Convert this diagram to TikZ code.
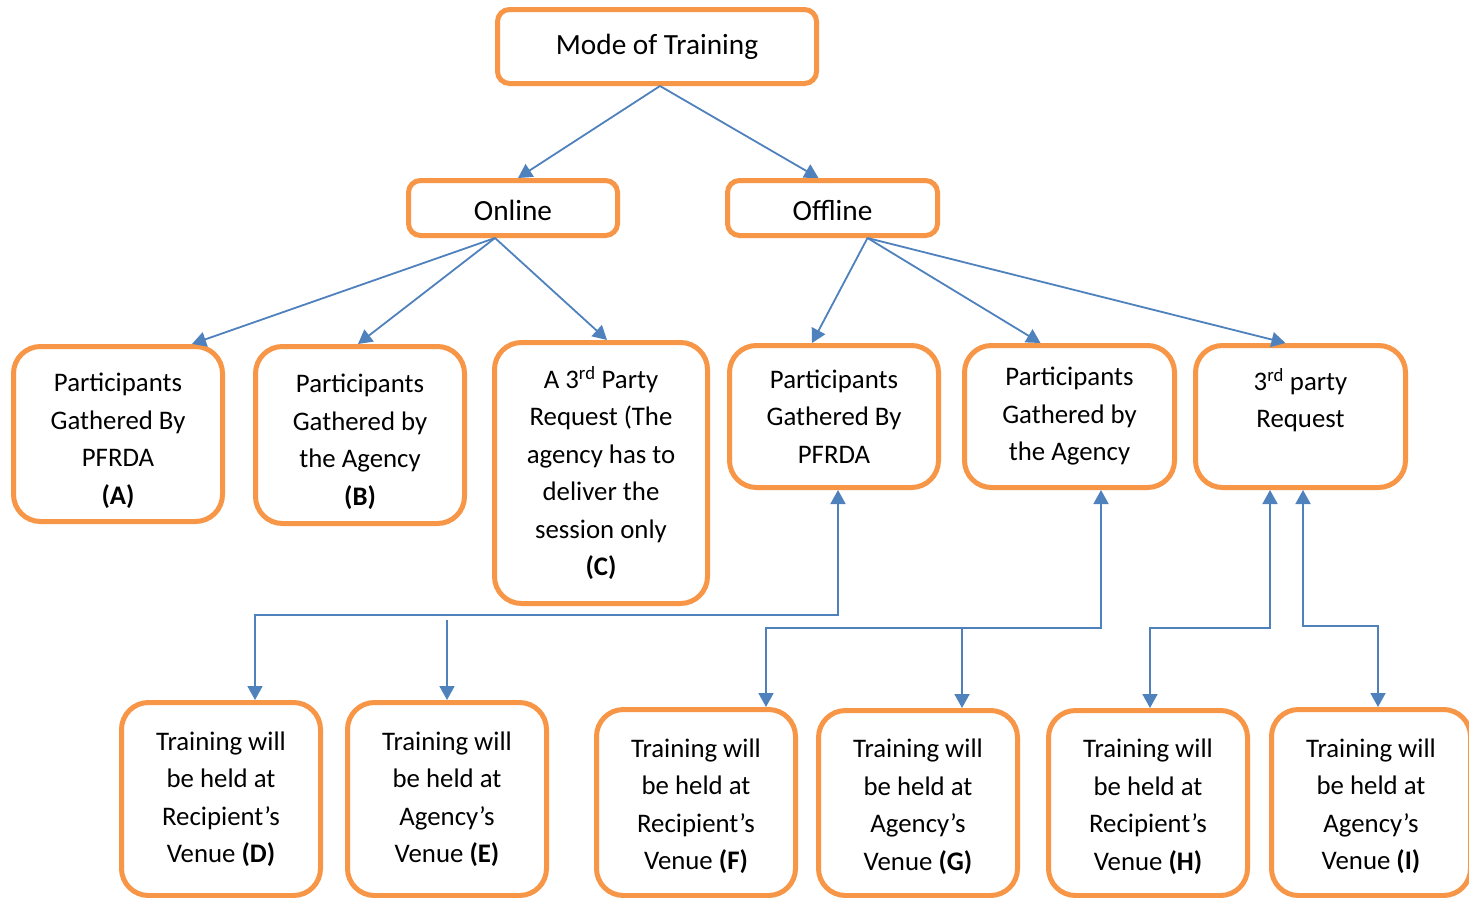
\documentclass[tikz,border=0pt]{standalone}
\usepackage{fontspec}
\setmainfont{Carlito}
\usetikzlibrary{arrows.meta}
\definecolor{boxorange}{HTML}{F79646}
\definecolor{lineblue}{HTML}{4F81BD}
\begin{document}
\begin{tikzpicture}[x=1pt,y=-1pt,
  topbox/.style={draw=boxorange, line width=5pt, rounded corners=12pt, fill=white,
    font=\fontsize{29.3}{34}\selectfont, align=center, inner sep=0pt},
  boxA/.style={draw=boxorange, line width=5pt, rounded corners=27pt, fill=white,
    font=\fontsize{26.8}{37.5}\selectfont, align=center, inner sep=0pt},
  conn/.style={draw=lineblue, line width=1.8pt, -{Triangle[width=15pt,length=14pt]}},
  conn2/.style={draw=lineblue, line width=1.8pt, {Triangle[width=15pt,length=14pt]}-{Triangle[width=15pt,length=14pt]}}
]
\useasboundingbox (0,0) rectangle (1469,897);
\fill[white] (0,0) rectangle (1469,897);

% top levels
\node[topbox, minimum width=319pt, minimum height=74pt] (mode) at (657,46.5) {Mode of Training};
\node[topbox, minimum width=209pt, minimum height=55pt] (online) at (513,208) {\rule{0pt}{26pt}Online};
\node[topbox, minimum width=210pt, minimum height=55pt] (offline) at (832.5,208) {\rule{0pt}{26pt}Offline};

% second level
\node[boxA, minimum width=209pt, minimum height=175pt] (A) at (118,434) {\rule{0pt}{32pt}Participants\\Gathered By\\PFRDA\\\textbf{(A)}};
\node[boxA, minimum width=209pt, minimum height=177pt] (B) at (360,435) {\rule{0pt}{32pt}Participants\\Gathered by\\the Agency\\\textbf{(B)}};
\node[boxA, minimum width=213pt, minimum height=261pt] (C) at (601,473) {A 3\textsuperscript{rd} Party\\Request (The\\agency has to\\deliver the\\session only\\\textbf{(C)}};
\node[boxA, minimum width=209pt, minimum height=142pt] (P2) at (834,416.5) {Participants\\Gathered By\\PFRDA};
\node[boxA, minimum width=210pt, minimum height=142pt] (G2) at (1069.5,416.5) {Participants\\Gathered by\\the Agency};
\node[boxA, minimum width=210pt, minimum height=142pt] (T3) at (1300.5,416.5) {3\textsuperscript{rd} party\\Request\\\mbox{}};

% bottom level
\node[boxA, minimum width=199pt, minimum height=193pt] (D) at (221,799) {Training will\\be held at\\Recipient’s\\Venue \textbf{(D)}};
\node[boxA, minimum width=199pt, minimum height=193pt] (E) at (447,799) {Training will\\be held at\\Agency’s\\Venue \textbf{(E)}};
\node[boxA, minimum width=199pt, minimum height=186pt] (F) at (696,802.5) {\rule{0pt}{26pt}Training will\\be held at\\Recipient’s\\Venue \textbf{(F)}};
\node[boxA, minimum width=199pt, minimum height=185pt] (G) at (918,803) {\rule{0pt}{26pt}Training will\\be held at\\Agency’s\\Venue \textbf{(G)}};
\node[boxA, minimum width=199pt, minimum height=185pt] (H) at (1148,803) {\rule{0pt}{26pt}Training will\\be held at\\Recipient’s\\Venue \textbf{(H)}};
\node[boxA, minimum width=199pt, minimum height=186pt] (I) at (1371,802.5) {\rule{0pt}{26pt}Training will\\be held at\\Agency’s\\Venue \textbf{(I)}};

% bus levels
\coordinate (bus1) at (0,615);
\coordinate (bus1e) at (0,620);
\coordinate (bus2) at (0,628);
\coordinate (bus3) at (0,626);

% connectors top
\draw[conn] ([xshift=3pt]mode.south) -- ([xshift=5pt]online.north);
\draw[conn] ([xshift=3pt]mode.south) -- ([xshift=-14pt]offline.north);
\draw[conn] ([xshift=-18pt]online.south) -- ([xshift=74pt]A.north);
\draw[conn] ([xshift=-18pt]online.south) -- ([xshift=-2pt]B.north);
\draw[conn] ([xshift=-18pt]online.south) -- ([xshift=6pt]C.north);
\draw[conn] ([xshift=35pt]offline.south) -- ([xshift=-22pt]P2.north);
\draw[conn] ([xshift=35pt]offline.south) -- ([xshift=-29pt]G2.north);
\draw[conn] ([xshift=35pt]offline.south) -- ([xshift=-15pt]T3.north);

% connectors bottom
\draw[conn2] ([xshift=34pt]D.north) -- ([xshift=34pt]D.north |- bus1) -| ([xshift=4pt]P2.south);
\draw[conn] (E.north |- bus1e) -- (E.north);
\draw[conn2] ([xshift=70pt]F.north) -- ([xshift=70pt]F.north |- bus2) -| ([xshift=31.5pt]G2.south);
\draw[conn] ([xshift=44pt]G.north |- bus2) -- ([xshift=44pt]G.north);
\draw[conn2] ([xshift=2pt]H.north) -- ([xshift=2pt]H.north |- bus2) -| ([xshift=-30.5pt]T3.south);
\draw[conn2] ([xshift=7pt]I.north) -- ([xshift=7pt]I.north |- bus3) -| ([xshift=2.5pt]T3.south);
\end{tikzpicture}
\end{document}
